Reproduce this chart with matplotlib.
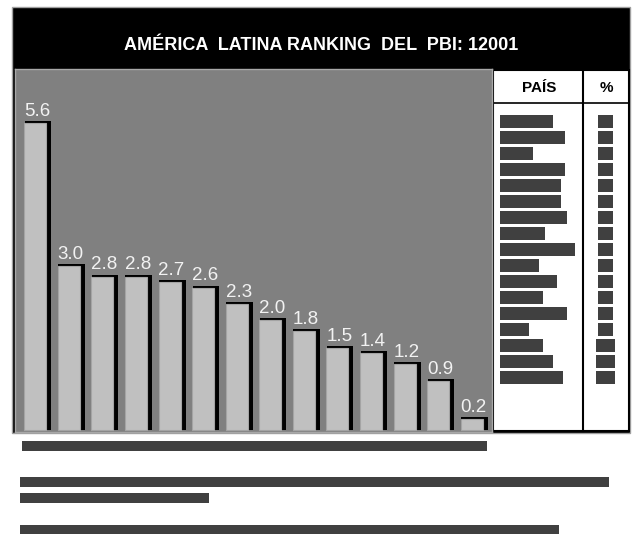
import matplotlib.pyplot as plt
from matplotlib.patches import Rectangle

plt.rcParams['font.family'] = ['Liberation Sans', 'DejaVu Sans']

# PBI ranking values, one bar per country
values = [5.6, 3.0, 2.8, 2.8, 2.7, 2.6, 2.3, 2.0, 1.8, 1.5, 1.4, 1.2, 0.9, 0.2]
labels = ['5.6', '3.0', '2.8', '2.8', '2.7', '2.6', '2.3', '2.0', '1.8', '1.5', '1.4', '1.2', '0.9', '0.2']

title = 'AMÉRICA  LATINA RANKING  DEL  PBI: 12001'
header = ['PAÍS', '%']

# widths (px) of the placeholder blocks in the side table
pais_widths = [53, 65, 33, 65, 61, 61, 67, 45, 75, 39, 57, 43, 67, 29, 43, 53, 63]
pct_widths = [15, 15, 15, 15, 15, 15, 15, 15, 15, 15, 15, 15, 15, 15, 19, 19, 19]

# placeholder text lines under the chart: (x start, x end)
note_lines = [(22, 487), (20, 609), (20, 209), (20, 559)]
note_rows = [441, 477, 493, 525]

W, H = 632, 534
fig = plt.figure(figsize=(W / 100, H / 100), dpi=100)

# background layer in pixel coordinates
bg = fig.add_axes([0, 0, 1, 1])
bg.set_xlim(0, W)
bg.set_ylim(H, 0)
bg.axis('off')

bg.add_patch(Rectangle((12, 7), 618, 426, facecolor='black', edgecolor='#a0a0a0', lw=1))
bg.text(321, 45, title, color='white', fontsize=13, fontweight='bold', ha='center', va='center')

# side table
bg.add_patch(Rectangle((493, 70), 136, 361, facecolor='white', edgecolor='black', lw=1.5))
bg.plot([493, 629], [103, 103], color='black', lw=1.2)
bg.plot([583, 583], [70, 431], color='black', lw=1.5)
bg.text(539, 88, header[0], fontsize=11, fontweight='bold', ha='center', va='center')
bg.text(606, 88, header[1], fontsize=11, fontweight='bold', ha='center', va='center')
for i, (pw, cw) in enumerate(zip(pais_widths, pct_widths)):
    y = 115 + 16 * i
    bg.add_patch(Rectangle((500, y), pw, 13, facecolor='#404040', lw=0))
    bg.add_patch(Rectangle((605.5 - cw / 2, y), cw, 13, facecolor='#404040', lw=0))

for (x0, x1), y in zip(note_lines, note_rows):
    bg.add_patch(Rectangle((x0, y), x1 - x0, 10, facecolor='#404040', lw=0))

# bar chart panel
ax = fig.add_axes([15 / W, (H - 432) / H, 477 / W, 363 / H])
ax.set_facecolor('#808080')
x = list(range(len(values)))
# drop shadow sits up and to the right of each bar
ax.bar([i + 0.082 for i in x], [v + 0.037 for v in values], width=0.789, color='black', lw=0)
ax.bar(x, values, width=0.655, color='#c0c0c0', edgecolor='#a4a4a4', lw=0.8)
for i, (v, lab) in enumerate(zip(values, labels)):
    ax.text(i + 0.06, v + 0.13, lab, color='#f2f2f2', fontsize=13.5, ha='center', va='baseline')

ax.set_xlim(-0.6, 13.6)
ax.set_ylim(-0.036, 6.588)
ax.set_xticks([])
ax.set_yticks([])
for s in ax.spines.values():
    s.set_color('#a8a8a8')
    s.set_linewidth(1)

plt.savefig('out.png', dpi=100)
